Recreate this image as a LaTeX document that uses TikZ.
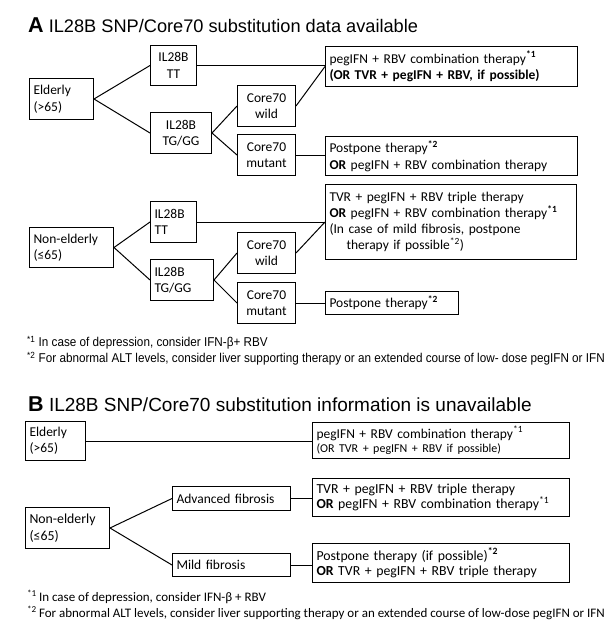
\documentclass[tikz,border=0pt]{standalone}
\usepackage{fontspec}
\setmainfont{Carlito}
\newfontfamily\arialf{Liberation Sans}
\newfontfamily\arialn[FakeStretch=0.915]{Liberation Sans}
\begin{document}
\begin{tikzpicture}[x=1pt,y=-1pt,
  bx/.style={draw, line width=1pt, anchor=north west, inner xsep=4pt, inner ysep=0pt,
    font=\fontsize{13.5}{16.5}\selectfont, align=left},
  cbx/.style={bx, align=center},
  ln/.style={line width=1pt},
  ttl/.style={anchor=west, inner sep=0pt, font=\arialf\fontsize{18.2}{20}\selectfont},
  fnA/.style={anchor=west, inner sep=0pt, font=\arialn\fontsize{12.8}{14}\selectfont},
  fnB/.style={anchor=west, inner sep=0pt, font=\fontsize{13}{14}\selectfont}]
\useasboundingbox (0,0) rectangle (610,621);
\fill[white] (0,0) rectangle (610,621);

% ---------------- A ----------------
\node[ttl] (tA) at (28,25) {{\fontsize{21.5}{21}\selectfont\bfseries A} IL28B SNP/Core70 substitution data available};

\node[bx, minimum width=64pt, minimum height=41pt, text width=56pt] (eA) at (29,78) {Elderly\\(>65)};
\node[cbx, minimum width=46pt, minimum height=40pt, text width=38pt] (ttA) at (150,45) {IL28B\\TT};
\node[cbx, minimum width=61pt, minimum height=41pt, text width=53pt] (tgA) at (150,112) {IL28B\\TG/GG};
\node[cbx, minimum width=58pt, minimum height=41pt, text width=50pt] (wA) at (237,85) {Core70\\wild};
\node[cbx, minimum width=58pt, minimum height=41pt, text width=50pt] (mA) at (237,134) {Core70\\mutant};
\node[bx, minimum width=252pt, minimum height=40pt, text width=244pt] (r1A) at (325,46)
  {pegIFN + RBV combination therapy\textsuperscript{\bfseries*1}\\\textbf{(OR TVR + pegIFN + RBV, if possible)}};
\node[bx, minimum width=252pt, minimum height=39pt, text width=244pt] (r2A) at (325,136)
  {Postpone therapy\textsuperscript{\bfseries*2}\\\textbf{OR} pegIFN + RBV combination therapy};

\node[bx, minimum width=84pt, minimum height=40pt, text width=76pt] (nA) at (29,227) {Non-elderly\\(≤65)};
\node[bx, minimum width=46pt, minimum height=41pt, text width=38pt] (tt2A) at (150,201) {IL28B\\TT};
\node[bx, minimum width=63pt, minimum height=41pt, text width=55pt] (tg2A) at (150,259) {IL28B\\TG/GG};
\node[cbx, minimum width=58pt, minimum height=41pt, text width=50pt] (w2A) at (237,232) {Core70\\wild};
\node[cbx, minimum width=58pt, minimum height=41pt, text width=50pt] (m2A) at (237,282) {Core70\\mutant};
\node[bx, minimum width=251pt, minimum height=75pt, text width=243pt, font=\fontsize{13.5}{16}\selectfont] (r3A) at (325,184)
  {TVR + pegIFN + RBV triple therapy\\\textbf{OR} pegIFN + RBV combination therapy\textsuperscript{\bfseries*1}\\(In case of mild fibrosis, postpone\\\hspace*{17pt}therapy if possible\textsuperscript{*2})};
\node[bx, minimum width=133pt, minimum height=23pt, text width=125pt] (r4A) at (325,291)
  {Postpone therapy\textsuperscript{\bfseries*2}};

\draw[ln] (eA.east) -- (ttA.west);
\draw[ln] (eA.east) -- (tgA.west);
\draw[ln] (tgA.east) -- (wA.west);
\draw[ln] (tgA.east) -- (mA.west);
\draw[ln] (ttA.east) -- (ttA.east -| r1A.west);
\draw[ln] (wA.east) -- (r1A.west);
\draw[ln] (mA.east) -- (mA.east -| r2A.west);

\draw[ln] (nA.east) -- (tt2A.west);
\draw[ln] (nA.east) -- (tg2A.west);
\draw[ln] (tg2A.east) -- (w2A.west);
\draw[ln] (tg2A.east) -- (m2A.west);
\draw[ln] (tt2A.east) -- (tt2A.east -| r3A.west);
\draw[ln] (w2A.east) -- (r3A.west);
\draw[ln] (m2A.east) -- (m2A.east -| r4A.west);

\node[fnA] (fA1) at (27,343) {\textsuperscript{*1} In case of depression, consider IFN-β+ RBV};
\node[fnA] (fA2) at (27,359) {\textsuperscript{*2} For abnormal ALT levels, consider liver supporting therapy or an extended course of low- dose pegIFN or IFN};

% ---------------- B ----------------
\node[ttl, font=\arialf\fontsize{19}{20}\selectfont] (tB) at (28,404) {{\fontsize{21.5}{21}\selectfont\bfseries B} IL28B SNP/Core70 substitution information is unavailable};

\node[bx, minimum width=60pt, minimum height=39pt, text width=52pt, font=\fontsize{13.5}{16}\selectfont] (eB) at (25,421) {Elderly\\(>65)};
\node[bx, minimum width=257pt, minimum height=36pt, text width=249pt, font=\fontsize{13.5}{14.5}\selectfont] (r1B) at (312,422)
  {pegIFN + RBV combination therapy\textsuperscript{*1}\\{\fontsize{12}{13}\selectfont (OR TVR + pegIFN + RBV if possible)}};
\node[bx, minimum width=84pt, minimum height=41pt, text width=76pt, font=\fontsize{13.8}{16.5}\selectfont] (nB) at (25,507) {Non-elderly\\(≤65)};
\node[bx, minimum width=118pt, minimum height=24pt, text width=110pt, font=\fontsize{13.5}{15}\selectfont] (advB) at (172,486) {Advanced fibrosis};
\node[bx, minimum width=118pt, minimum height=23pt, text width=110pt, font=\fontsize{13.5}{15}\selectfont] (mildB) at (172,553) {Mild fibrosis};
\node[bx, minimum width=257pt, minimum height=38pt, text width=249pt, font=\fontsize{13.8}{15}\selectfont] (r2B) at (312,478)
  {TVR + pegIFN + RBV triple therapy\\\textbf{OR} pegIFN + RBV combination therapy\textsuperscript{*1}};
\node[bx, minimum width=257pt, minimum height=39pt, text width=249pt, font=\fontsize{13.8}{15.5}\selectfont] (r3B) at (312,543)
  {Postpone therapy (if possible)\textsuperscript{\bfseries*2}\\\textbf{OR} TVR + pegIFN + RBV triple therapy};

\draw[ln] (eB.east) -- (eB.east -| r1B.west);
\draw[ln] (nB.east) -- (advB.west);
\draw[ln] (nB.east) -- (mildB.west);
\draw[ln] (advB.east) -- (advB.east -| r2B.west);
\draw[ln] (mildB.east) -- (mildB.east -| r3B.west);

\node[fnB] (fB1) at (27,597) {\textsuperscript{*1}\,In case of depression, consider IFN-β + RBV};
\node[fnB] (fB2) at (27,613) {\textsuperscript{*2}\,For abnormal ALT levels, consider liver supporting therapy or an extended course of low-dose pegIFN or IFN};
\end{tikzpicture}
\end{document}
